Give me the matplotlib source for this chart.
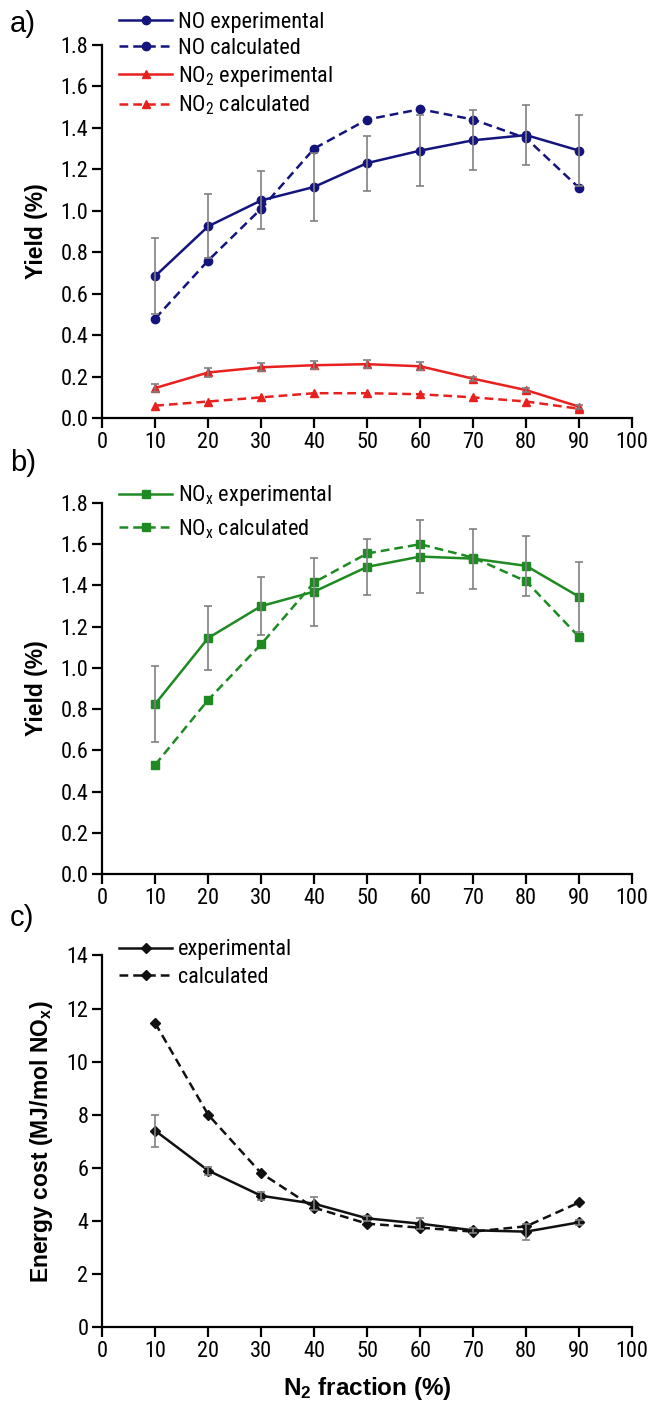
import matplotlib
matplotlib.use("Agg")
import matplotlib.pyplot as plt

plt.rcParams['font.family'] = ['Roboto Condensed', 'Liberation Sans', 'DejaVu Sans']
plt.rcParams['mathtext.default'] = 'regular'

n2 = [10, 20, 30, 40, 50, 60, 70, 80, 90]

no_exp = [0.685, 0.925, 1.05, 1.115, 1.23, 1.29, 1.34, 1.365, 1.29]
no_exp_err = [0.185, 0.155, 0.14, 0.165, 0.133, 0.17, 0.145, 0.145, 0.17]
no_calc = [0.48, 0.76, 1.01, 1.30, 1.44, 1.49, 1.44, 1.35, 1.11]
no2_exp = [0.145, 0.22, 0.245, 0.255, 0.26, 0.25, 0.19, 0.135, 0.055]
no2_exp_err = [0.02, 0.02, 0.02, 0.02, 0.02, 0.02, 0.01, 0.01, 0.01]
no2_calc = [0.06, 0.08, 0.10, 0.12, 0.12, 0.115, 0.10, 0.08, 0.045]

nox_exp = [0.825, 1.145, 1.30, 1.37, 1.49, 1.54, 1.53, 1.495, 1.345]
nox_exp_err = [0.185, 0.155, 0.14, 0.165, 0.135, 0.175, 0.145, 0.145, 0.17]
nox_calc = [0.53, 0.845, 1.115, 1.415, 1.555, 1.60, 1.535, 1.42, 1.15]

ec_exp = [7.4, 5.9, 4.95, 4.65, 4.1, 3.9, 3.65, 3.6, 3.95]
ec_exp_err = [0.6, 0.15, 0.15, 0.25, 0.1, 0.2, 0.1, 0.3, 0.1]
ec_calc = [11.45, 8.0, 5.8, 4.5, 3.9, 3.75, 3.6, 3.8, 4.7]

blue = '#14147e'
red = '#e8201e'
green = '#1e8a22'
black = '#111111'
gray = '#808080'

FS = 16
ARIAL = ['Liberation Sans', 'DejaVu Sans']
LABEL_FONT = dict(family=ARIAL, fontsize=16.5, fontweight='bold')
DASH = (0, (3.5, 2))

fig = plt.figure(figsize=(6.51, 14.03), dpi=100)
ax1 = fig.add_axes([0.157, 0.702, 0.814, 0.266])
ax2 = fig.add_axes([0.157, 0.377, 0.814, 0.2645])
ax3 = fig.add_axes([0.157, 0.054, 0.814, 0.265])


def style(ax, ymax, step, fmt):
    ax.set_xlim(0, 100)
    ax.set_ylim(0, ymax)
    ax.set_xticks(range(0, 101, 10))
    yt = [i * step for i in range(int(round(ymax / step)) + 1)]
    ax.set_yticks(yt)
    ax.set_yticklabels([fmt.format(v) for v in yt])
    for s in ['top', 'right']:
        ax.spines[s].set_visible(False)
    for s in ['left', 'bottom']:
        ax.spines[s].set_linewidth(1.6)
    ax.tick_params(direction='out', length=7, width=1.6, labelsize=FS, pad=3)


def series(ax, y, err, color, marker, ls, label, ms=6):
    if err is not None:
        ax.errorbar(n2, y, yerr=err, fmt='none', ecolor=gray, elinewidth=1.2,
                    capsize=3, capthick=1.2, zorder=4)
    ax.plot(n2, y, color=color, ls=ls, lw=1.8, marker=marker, ms=ms,
            label=label, clip_on=False, zorder=3)


def legend(ax, y, spacing):
    ax.legend(loc='upper left', bbox_to_anchor=(0.163, y), bbox_transform=fig.transFigure,
              frameon=False, fontsize=FS, numpoints=1, handlelength=2.35,
              handletextpad=0.3, labelspacing=spacing, borderpad=0.1)


# a)
series(ax1, no_exp, no_exp_err, blue, 'o', '-', 'NO experimental')
series(ax1, no_calc, None, blue, 'o', DASH, 'NO calculated')
series(ax1, no2_exp, no2_exp_err, red, '^', '-', 'NO$_2$ experimental')
series(ax1, no2_calc, None, red, '^', DASH, 'NO$_2$ calculated')
style(ax1, 1.8, 0.2, '{:.1f}')
ax1.set_ylabel('Yield (%)', labelpad=9, **LABEL_FONT)
legend(ax1, 1.001, 0.22)

# b)
series(ax2, nox_exp, nox_exp_err, green, 's', '-', 'NO$_x$ experimental', ms=5.5)
series(ax2, nox_calc, None, green, 's', DASH, 'NO$_x$ calculated', ms=5.5)
style(ax2, 1.8, 0.2, '{:.1f}')
ax2.set_ylabel('Yield (%)', labelpad=9, **LABEL_FONT)
legend(ax2, 0.665, 0.4)

# c)
series(ax3, ec_exp, ec_exp_err, black, 'D', '-', 'experimental', ms=5)
series(ax3, ec_calc, None, black, 'D', DASH, 'calculated', ms=5)
style(ax3, 14, 2, '{:.0f}')
ax3.set_ylabel('Energy cost (MJ/mol NO$_x$)', labelpad=8, **LABEL_FONT)
ax3.set_xlabel('N$_2$ fraction (%)', labelpad=9, family=ARIAL, fontsize=17.5, fontweight='bold')
legend(ax3, 0.340, 0.3)

fig.text(0.015, 0.983, 'a)', fontsize=21, va='center', family=ARIAL)
fig.text(0.015, 0.670, 'b)', fontsize=21, va='center', family=ARIAL)
fig.text(0.015, 0.346, 'c)', fontsize=21, va='center', family=ARIAL)

fig.savefig('out.png', dpi=100)
